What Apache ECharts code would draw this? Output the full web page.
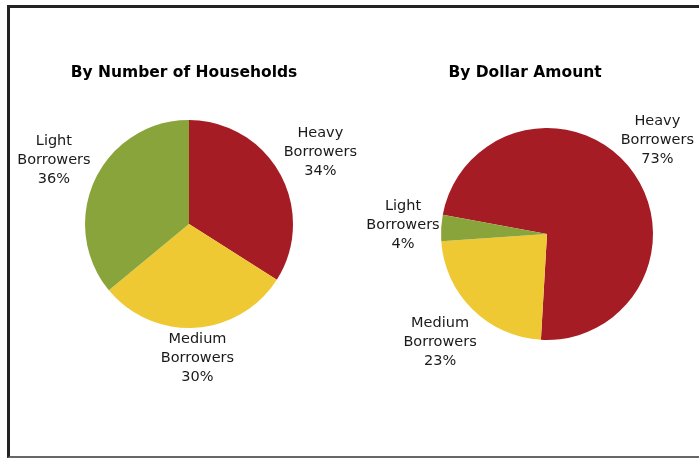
<!DOCTYPE html>
<html>
<head>
<meta charset="utf-8">
<script src="https://cdn.jsdelivr.net/npm/echarts@6/dist/echarts.min.js"></script>
<style>
  html, body { margin: 0; padding: 0; background: #fff; overflow: hidden; }
  #frame {
    position: absolute; left: 7px; top: 5px; width: 800px; height: 448px;
    border-top: 3px solid #222; border-left: 3px solid #222; border-bottom: 2px solid #666;
  }
  #chart { position: absolute; left: 0; top: 0; width: 699px; height: 458px; }
</style>
</head>
<body>
<div id="frame"></div>
<div id="chart"></div>
<script>
// Borrower groups and their shares (percent)
const categories = ['Heavy Borrowers', 'Medium Borrowers', 'Light Borrowers'];
const householdShares = [34, 30, 36];
const dollarShares = [73, 23, 4];
const chartTitles = ['By Number of Households', 'By Dollar Amount'];
const sliceColors = ['#A61C24', '#EFC933', '#8AA43C'];

const FONT = '"DejaVu Sans", Verdana, sans-serif';
const LABEL_RIGHT_LIMIT = 694;

// Geometry of the two pies
const pies = [
  { center: [189, 224], radius: 104, startAngle: 90 },
  { center: [547, 234], radius: 106, startAngle: 169.5 }
];

function toData(values) {
  return categories.map((name, i) => ({ name: name, value: values[i] }));
}

// Push each label outward along its slice's mid-angle until its box just
// touches the rim of the pie, keeping it inside the drawing area.
function placeLabel(params) {
  const p = pies[params.seriesIndex];
  const r = params.labelRect;
  const lx = r.x + r.width / 2, ly = r.y + r.height / 2;
  let ux = lx - p.center[0], uy = ly - p.center[1];
  const len = Math.hypot(ux, uy) || 1;
  ux /= len; uy /= len;
  const d = p.radius + Math.abs(ux) * r.width / 2 + Math.abs(uy) * r.height / 2;
  let x = p.center[0] + ux * d;
  const y = p.center[1] + uy * d;
  x = Math.min(x, LABEL_RIGHT_LIMIT - r.width / 2);
  return { x: x, y: y, align: 'center', verticalAlign: 'middle' };
}

function pieSeries(values, idx) {
  const p = pies[idx];
  return {
    type: 'pie',
    center: p.center,
    radius: p.radius,
    startAngle: p.startAngle,
    clockwise: true,
    avoidLabelOverlap: false,
    silent: true,
    data: toData(values),
    itemStyle: { borderWidth: 0 },
    label: {
      show: true,
      position: 'inside',
      fontFamily: FONT,
      fontSize: 14.5,
      lineHeight: 19,
      color: '#1a1a1a',
      align: 'center',
      formatter: (q) => q.name.replace(' ', '\n') + '\n' + q.value + '%'
    },
    labelLine: { show: false },
    labelLayout: placeLabel
  };
}

const titleStyle = { fontFamily: FONT, fontSize: 15.5, fontWeight: 'bold', color: '#000' };

const chart = echarts.init(document.getElementById('chart'), null, { renderer: 'canvas' });
chart.setOption({
  animation: false,
  color: sliceColors,
  title: [
    { text: chartTitles[0], left: 179, top: 60, textAlign: 'center', textStyle: titleStyle },
    { text: chartTitles[1], left: 520, top: 60, textAlign: 'center', textStyle: titleStyle }
  ],
  series: [pieSeries(householdShares, 0), pieSeries(dollarShares, 1)]
});
</script>
</body>
</html>
